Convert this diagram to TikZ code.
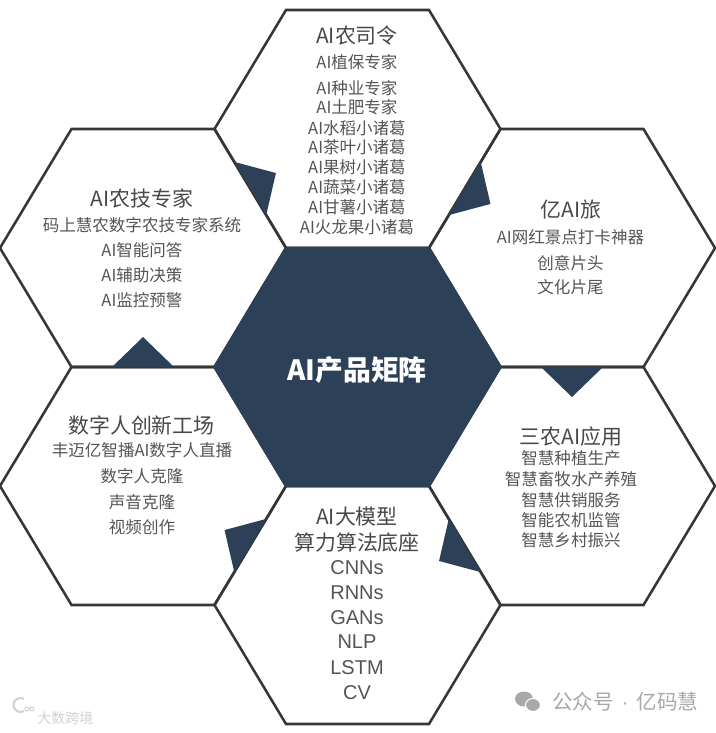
\documentclass[tikz,border=0pt]{standalone}
\usepackage{fontspec}
\setmainfont{Noto Sans CJK SC}
\newfontfamily\lat{Liberation Sans}
\definecolor{navy}{HTML}{2C4058}
\definecolor{edgegray}{HTML}{363636}
\definecolor{txtgray}{HTML}{555555}
\definecolor{headgray}{HTML}{484848}
\definecolor{wmgray}{HTML}{A8A8A8}
\definecolor{wmlight}{HTML}{D2D2D2}
\newcommand\myheadfont{\fontsize{15.7pt}{18pt}\selectfont}
\newcommand\myitemfont{\fontsize{12.4pt}{14pt}\selectfont}
\newcommand\mylatfont{\lat\fontsize{15pt}{18pt}\selectfont}
\tikzset{
  hexedge/.style={draw=edgegray, line width=1.9pt},
  hexa/.pic={\path[hexedge] (-143,0)--(-71.5,-119)--(71.5,-119)--(143,0)--(71.5,119)--(-71.5,119)--cycle;},
  hexcore/.pic={\path[fill=navy, draw=navy, line width=1.9pt] (-143,0)--(-71.5,-119)--(71.5,-119)--(143,0)--(71.5,119)--(-71.5,119)--cycle;},
  tab/.style={fill=navy},
  headtxt/.style={text=headgray, font=\myheadfont, inner sep=0pt, anchor=center},
  itemtxt/.style={text=txtgray, font=\myitemfont, inner sep=0pt, anchor=center},
  lattxt/.style={text=txtgray, font=\mylatfont, inner sep=0pt, anchor=center},
}
\begin{document}
\begin{tikzpicture}[x=0.75pt, y=-0.75pt]
\useasboundingbox (0,0) rectangle (716,733);
\fill[white] (0,0) rectangle (716,733);

% hexagon centres
\coordinate (C)  at (357.5,367);
\coordinate (T)  at (357.5,129);
\coordinate (B)  at (357.5,605);
\coordinate (UL) at (143,248);
\coordinate (UR) at (572,248);
\coordinate (LL) at (143,486);
\coordinate (LR) at (572,486);

\foreach \h in {T,B,UL,UR,LL,LR} { \pic at (\h) {hexa}; }
\pic at (C) {hexcore};

% dark tabs
\fill[tab] (234.3,161.9) -- (275.95,173.05) -- (266.2,215.1) -- cycle;
\fill[tab] (480.7,161.9) -- (490.45,203.95) -- (448.8,215.1) -- cycle;
\fill[tab] (541,367) -- (572,397) -- (603,367) -- cycle;
\fill[tab] (448.8,518.9) -- (439.05,560.95) -- (480.7,572.1) -- cycle;
\fill[tab] (266.2,518.9) -- (224.55,530.05) -- (234.3,572.1) -- cycle;
\fill[tab] (112,367) -- (143,337) -- (174,367) -- cycle;

% centre
\node[text=white, font=\bfseries\fontsize{20.9pt}{24pt}\selectfont, inner sep=0pt] (core) at (357,370) {AI产品矩阵};

% top
\node[headtxt] (th) at (357,36) {AI农司令};
\foreach \y/\t [count=\i] in {62/AI植保专家, 88/AI种业专家, 107/AI土肥专家, 128/AI水稻小诸葛, 147/AI茶叶小诸葛, 167/AI果树小诸葛, 187/AI蔬菜小诸葛, 207/AI甘薯小诸葛, 227/AI火龙果小诸葛}
  { \node[itemtxt] (ti\i) at (357,\y) {\t}; }

% upper left
\node[headtxt] (ulh) at (142,198) {AI农技专家};
\foreach \y/\t [count=\i] in {225/码上慧农数字农技专家系统, 250/AI智能问答, 275/AI辅助决策, 300/AI监控预警}
  { \node[itemtxt] (uli\i) at (142,\y) {\t}; }

% upper right
\node[headtxt] (urh) at (571,210) {亿AI旅};
\foreach \y/\t [count=\i] in {237/AI网红景点打卡神器, 263/创意片头, 287/文化片尾}
  { \node[itemtxt] (uri\i) at (570.5,\y) {\t}; }

% lower left
\node[headtxt] (llh) at (141.5,425) {数字人创新工场};
\foreach \y/\t [count=\i] in {450/丰迈亿智播AI数字人直播, 476/数字人克隆, 502/声音克隆, 527/视频创作}
  { \node[itemtxt] (lli\i) at (142,\y) {\t}; }

% lower right
\node[headtxt] (lrh) at (571,437) {三农AI应用};
\foreach \y/\t [count=\i] in {458/智慧种植生产, 479/智慧畜牧水产养殖, 500/智慧供销服务, 520/智能农机监管, 540/智慧乡村振兴}
  { \node[itemtxt] (lri\i) at (571,\y) {\t}; }

% bottom
\node[headtxt] (bh1) at (357,517) {AI大模型};
\node[headtxt] (bh2) at (357,543) {算力算法底座};
\foreach \y/\t [count=\i] in {568/CNNs, 593/RNNs, 618/GANs, 642/NLP, 668/LSTM, 693/CV}
  { \node[lattxt] (bi\i) at (357,\y) {\t}; }

% watermarks
\fill[wmgray] (524,699) ellipse [x radius=9, y radius=7.5];
\fill[wmgray, draw=white, line width=0.8pt] (533,705) ellipse [x radius=7.5, y radius=6.5];
\node[text=wmgray, font=\fontsize{15.4pt}{18pt}\selectfont, inner sep=0pt, anchor=west] (wm) at (552,702) {公众号\hspace{6pt}{\lat·}\hspace{6pt}亿码慧};
\draw[wmlight, line width=1.6pt] (24,711) arc[start angle=60, end angle=300, radius=7];
\draw[wmlight, line width=0.7pt] (27,709) circle[radius=2] (32,709) circle[radius=2];
\node[text=wmlight, font=\fontsize{10.5pt}{12pt}\selectfont, inner sep=0pt, anchor=west] (wm2) at (37,718) {大数跨境};
\end{tikzpicture}
\end{document}
